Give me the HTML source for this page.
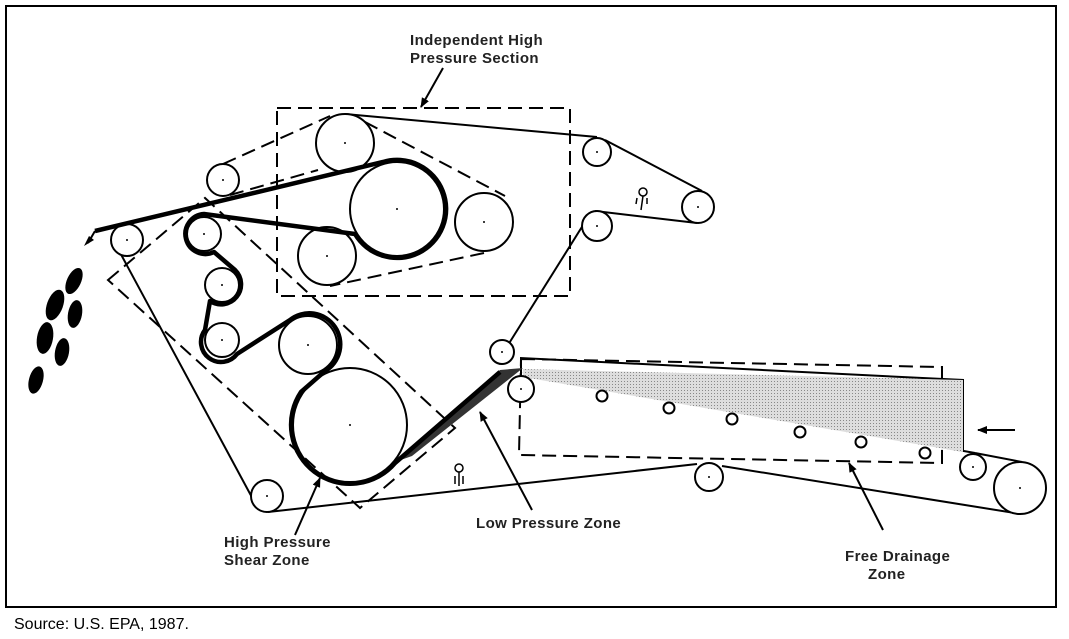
<!DOCTYPE html>
<html><head><meta charset="utf-8"><style>
html,body{margin:0;padding:0;background:#fff;}
svg{display:block;}
text{font-family:"Liberation Sans",Arial,sans-serif;}
</style></head><body>
<svg width="1069" height="639" viewBox="0 0 1069 639" xmlns="http://www.w3.org/2000/svg">
<defs>
<marker id="ah" markerWidth="10" markerHeight="10" refX="9" refY="5" orient="auto" markerUnits="userSpaceOnUse">
<path d="M0,1 L10,5 L0,9 Z" fill="#000"/></marker>
<pattern id="dots" width="3" height="3" patternUnits="userSpaceOnUse"><rect width="3" height="3" fill="#ddd"/><rect width="1" height="1" fill="#888"/></pattern>
</defs>
<rect x="0" y="0" width="1069" height="639" fill="#fff"/>
<rect x="6" y="6" width="1050" height="601" fill="none" stroke="#000" stroke-width="2"/>
<text x="14" y="629" font-size="16">Source: U.S. EPA, 1987.</text>

<g fill="none" stroke="#000" stroke-width="2">
<g stroke-dasharray="14,7">
<rect x="277" y="108" width="293" height="188"/>
<polygon points="108,280 205,198 455,428 360,508"/>
<polygon points="521,359 942,367 942,463 519,455"/>
<line x1="223" y1="164" x2="330" y2="116"/>
<line x1="230" y1="195" x2="318" y2="170"/>
<line x1="365" y1="122" x2="505" y2="196"/>
<line x1="484" y1="253" x2="330" y2="286"/>
</g>
<line x1="345" y1="114" x2="597" y2="137"/>
<line x1="605" y1="140" x2="702" y2="191"/>
<line x1="595" y1="211" x2="697" y2="223"/>
<line x1="585" y1="222" x2="508" y2="345"/>
<line x1="117" y1="247" x2="255" y2="503"/>
<line x1="268" y1="512" x2="697" y2="464"/>
<line x1="722" y1="466" x2="1021" y2="514"/>
<line x1="523" y1="372" x2="975" y2="453"/>
<line x1="975" y1="453" x2="1022" y2="462"/>
<polyline points="521,402 521,358 963,380 963,452"/>
</g>
<polygon points="523,369 963,380 963,452 523,377" fill="url(#dots)"/>
<polygon points="395,462 500,370 523,368 412,456" fill="#333"/>

<g fill="#fff" stroke="#000" stroke-width="2">
<circle cx="345" cy="143" r="29"/>
<circle cx="484" cy="222" r="29"/>
<circle cx="327" cy="256" r="29"/>
<circle cx="223" cy="180" r="16"/>
<circle cx="127" cy="240" r="16"/>
<circle cx="204" cy="234" r="17"/>
<circle cx="222" cy="285" r="17"/>
<circle cx="222" cy="340" r="17"/>
<circle cx="308" cy="345" r="29"/>
<circle cx="267" cy="496" r="16"/>
<circle cx="597" cy="152" r="14"/>
<circle cx="597" cy="226" r="15"/>
<circle cx="698" cy="207" r="16"/>
<circle cx="502" cy="352" r="12"/>
<circle cx="521" cy="389" r="13"/>
<circle cx="709" cy="477" r="14"/>
<circle cx="973" cy="467" r="13"/>
<circle cx="1020" cy="488" r="26"/>
<circle cx="602" cy="396" r="5.5"/>
<circle cx="669" cy="408" r="5.5"/>
<circle cx="732" cy="419" r="5.5"/>
<circle cx="800" cy="432" r="5.5"/>
<circle cx="861" cy="442" r="5.5"/>
<circle cx="925" cy="453" r="5.5"/>
</g>
<g fill="none" stroke="#000" stroke-width="2">
<circle cx="397" cy="209" r="47"/>
<circle cx="350" cy="425" r="57"/>
</g>
<path d="M95,231 L383,162 A49 49 0 1 1 355,234 L204,214 A20 20 0 1 0 214,252 L235,270 A20 20 0 0 1 210,301 L205,330 A20 20 0 0 0 237,354 L290,320 A31 31 0 1 1 325,371 L301,392 A59 59 0 0 0 395,463 L500,372" fill="none" stroke="#000" stroke-width="4.5" stroke-linejoin="round"/>
<path d="M95,231 L88,243" stroke="#000" stroke-width="2"/>
<path d="M84,246 L89,236 L94,240 Z" fill="#000"/>
<g fill="#000">
<circle cx="345" cy="143" r="1"/><circle cx="484" cy="222" r="1"/><circle cx="327" cy="256" r="1"/>
<circle cx="397" cy="209" r="1"/><circle cx="350" cy="425" r="1"/><circle cx="223" cy="180" r="1"/>
<circle cx="127" cy="240" r="1"/><circle cx="204" cy="234" r="1"/><circle cx="222" cy="285" r="1"/>
<circle cx="222" cy="340" r="1"/><circle cx="308" cy="345" r="1"/><circle cx="267" cy="496" r="1"/>
<circle cx="597" cy="152" r="1"/><circle cx="597" cy="226" r="1"/><circle cx="698" cy="207" r="1"/>
<circle cx="502" cy="352" r="1"/><circle cx="521" cy="389" r="1"/><circle cx="709" cy="477" r="1"/>
<circle cx="973" cy="467" r="1"/><circle cx="1020" cy="488" r="1"/>
</g>
<g fill="#000">
<ellipse cx="74" cy="281" rx="7" ry="14" transform="rotate(25 74 281)"/>
<ellipse cx="55" cy="305" rx="8" ry="16" transform="rotate(20 55 305)"/>
<ellipse cx="75" cy="314" rx="7" ry="14" transform="rotate(10 75 314)"/>
<ellipse cx="45" cy="338" rx="8" ry="16" transform="rotate(10 45 338)"/>
<ellipse cx="62" cy="352" rx="7" ry="14" transform="rotate(10 62 352)"/>
<ellipse cx="36" cy="380" rx="7" ry="14" transform="rotate(15 36 380)"/>
</g>
<g fill="none" stroke="#000" stroke-width="1.5">
<circle cx="643" cy="192" r="4"/><line x1="643" y1="196" x2="641" y2="210"/><line x1="637" y1="198" x2="636" y2="204"/><line x1="647" y1="198" x2="647" y2="204"/>
<circle cx="459" cy="468" r="4"/><line x1="459" y1="472" x2="459" y2="486"/><line x1="455" y1="476" x2="455" y2="484"/><line x1="463" y1="476" x2="463" y2="484"/>
</g>
<g stroke="#000" stroke-width="2" marker-end="url(#ah)">
<line x1="443" y1="68" x2="421" y2="107"/>
<line x1="295" y1="535" x2="320" y2="478"/>
<line x1="532" y1="510" x2="480" y2="412"/>
<line x1="883" y1="530" x2="849" y2="463"/>
<line x1="1015" y1="430" x2="978" y2="430"/>
</g>
<g font-size="15" font-weight="bold" fill="#222" letter-spacing="0.4">
<text x="410" y="45">Independent High</text>
<text x="410" y="63">Pressure Section</text>
<text x="224" y="547">High Pressure</text>
<text x="224" y="565">Shear Zone</text>
<text x="476" y="528">Low Pressure Zone</text>
<text x="845" y="561">Free Drainage</text>
<text x="868" y="579">Zone</text>
</g>
</svg>
</body></html>
